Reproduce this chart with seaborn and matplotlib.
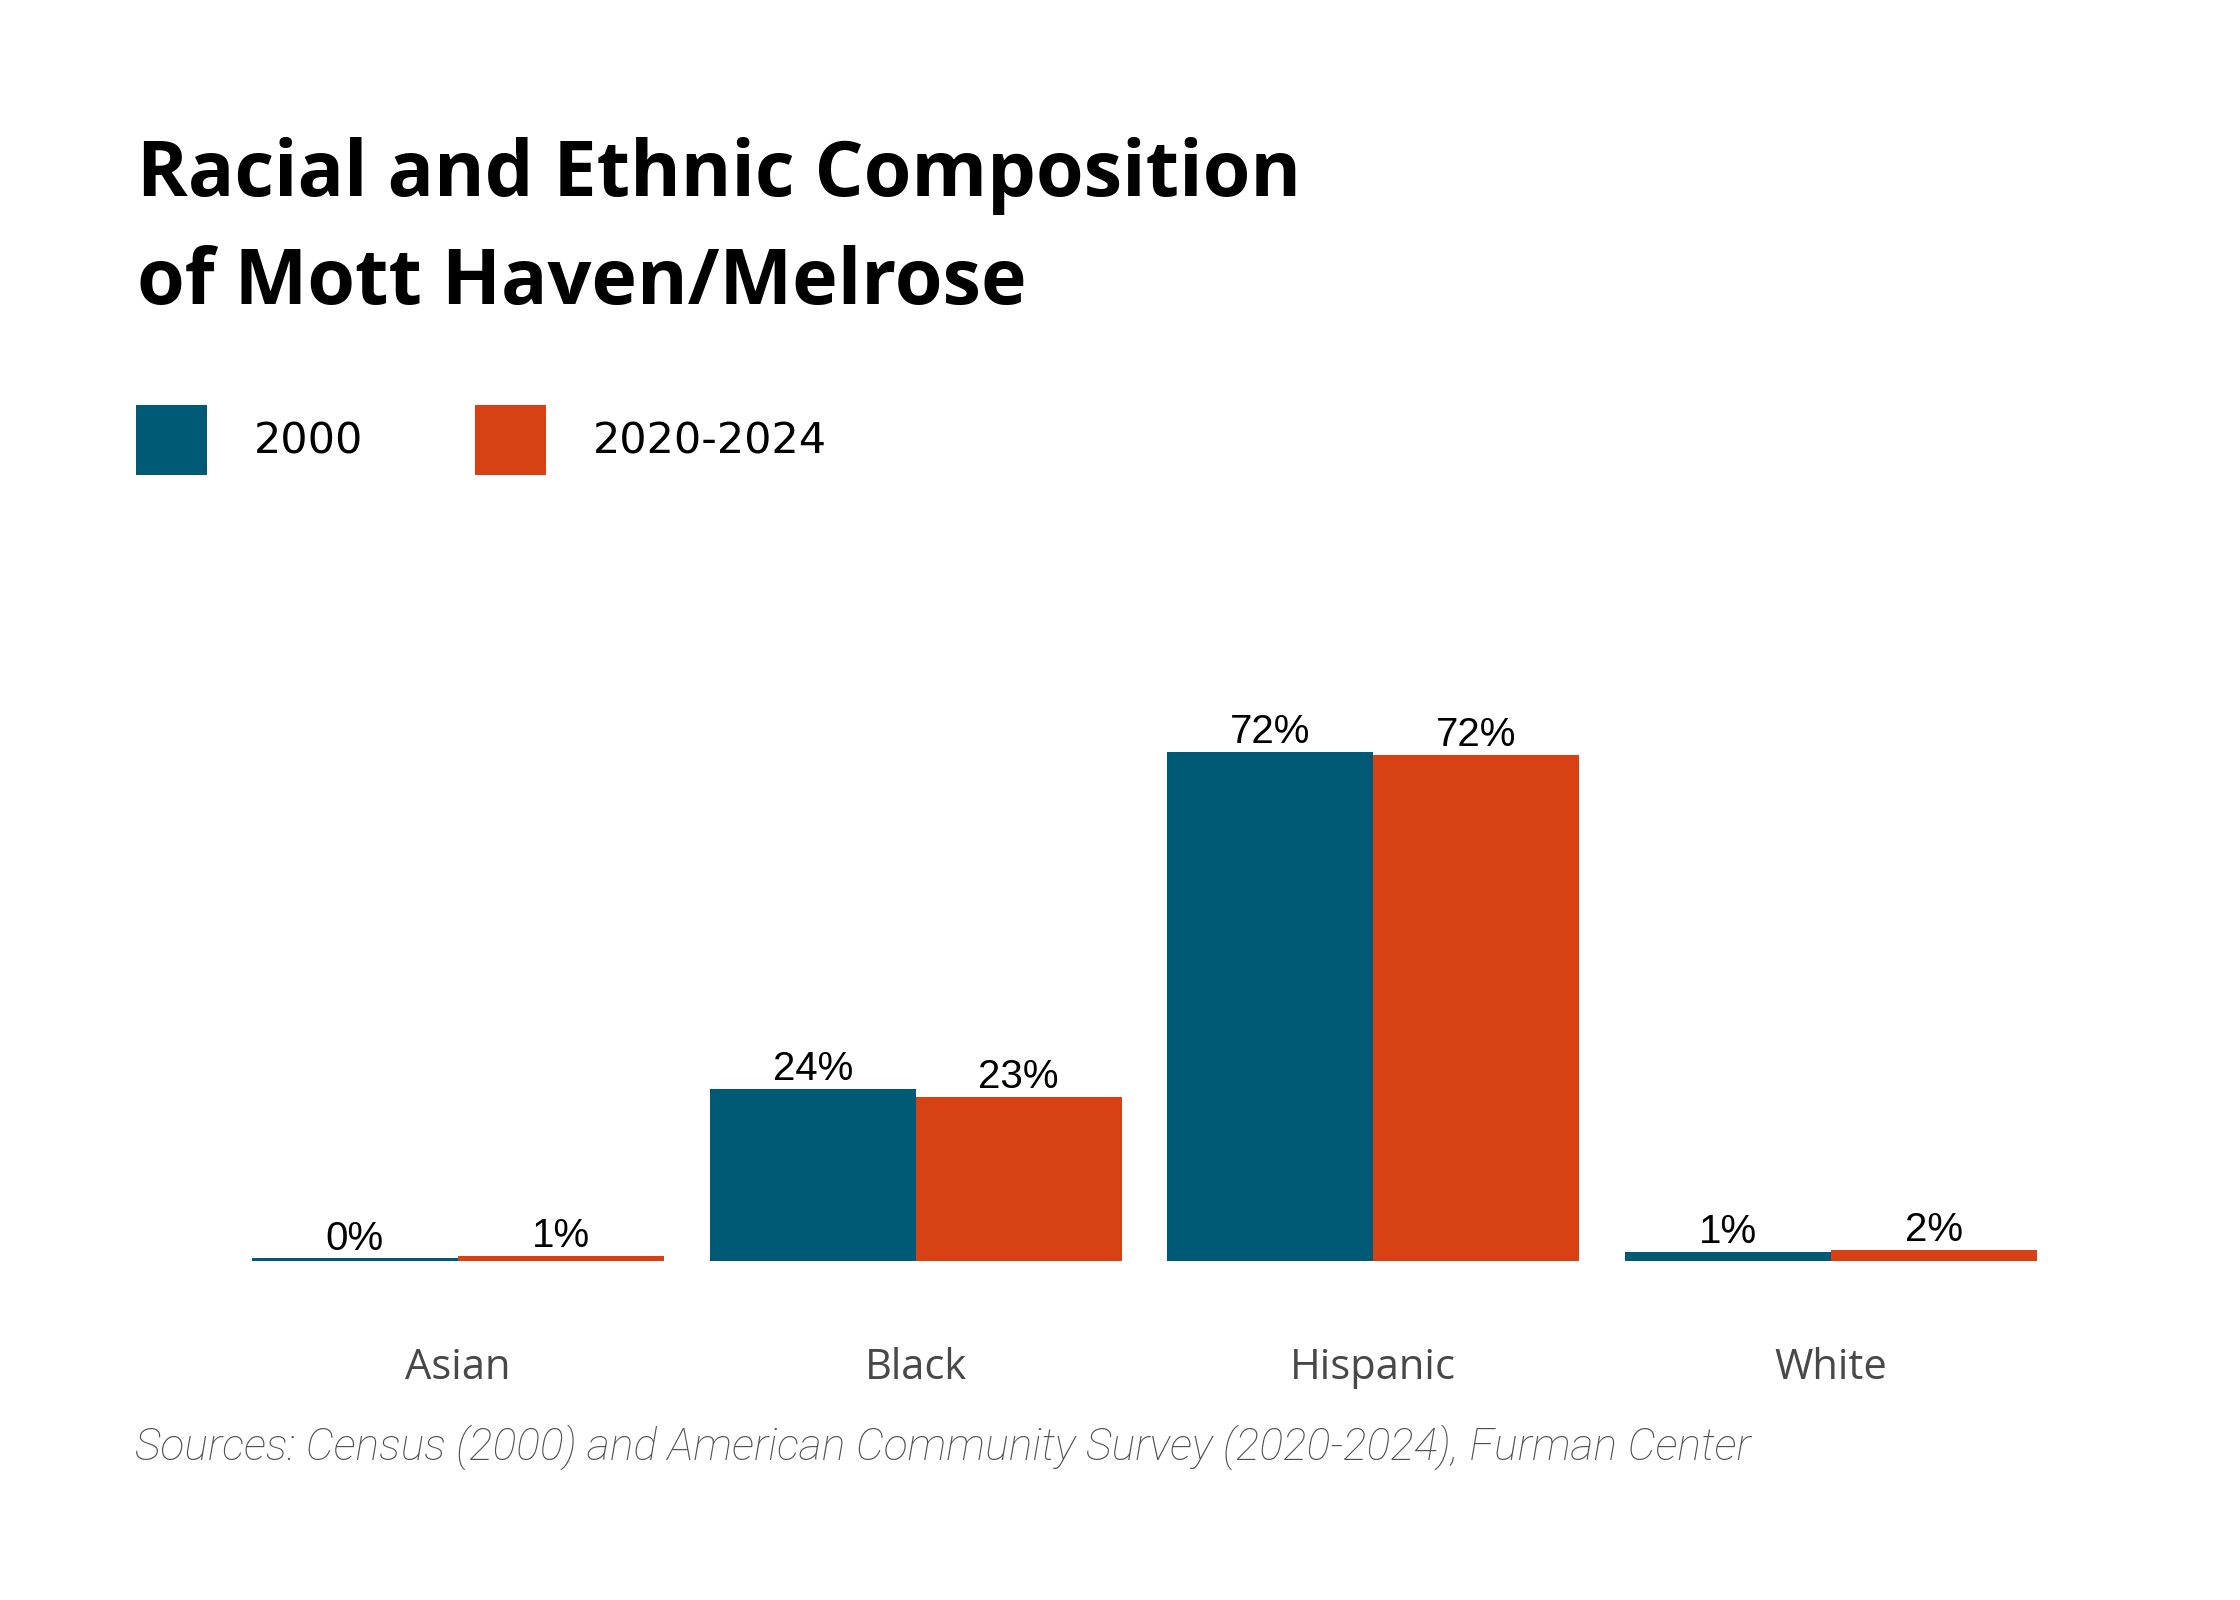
import pandas as pd
import seaborn as sns
import matplotlib.pyplot as plt
from matplotlib.patches import Patch

# data (percent of population)
groups = ["Asian", "Black", "Hispanic", "White"]
years = ["2000", "2020-2024"]
share_2000 = [0.38, 24.3, 72.0, 1.3]
share_2020 = [0.7, 23.2, 71.5, 1.55]

colors = ["#015a75", "#d74113"]

df = pd.DataFrame({
    "group": groups * 2,
    "year": [years[0]] * 4 + [years[1]] * 4,
    "share": share_2000 + share_2020,
})

sns.set_theme(style="white")
plt.rcParams["font.family"] = ["Open Sans", "DejaVu Sans"]

fig = plt.figure(figsize=(22.4, 16), dpi=100)
ax = fig.add_axes([229 / 2240, 339 / 1600, 1831 / 2240, 566 / 1600])

sns.barplot(data=df, x="group", y="share", hue="year", order=groups,
            hue_order=years, palette=colors, saturation=1, width=0.9,
            errorbar=None, linewidth=0, ax=ax)

ax.set_xlim(-0.5, 3.5)
ax.set_ylim(0, 80)
ax.set_xlabel("")
ax.set_ylabel("")
ax.set_yticks([])
for s in ax.spines.values():
    s.set_visible(False)
ax.tick_params(axis="x", length=0, pad=62, labelsize=30, labelcolor="#484848")

# value labels on top of the bars
for cont in ax.containers:
    labels = [f"{round(b.get_height())}%" for b in cont]
    ax.bar_label(cont, labels=labels, padding=0.5, fontsize=29,
                 family="Liberation Sans", color="black")

ax.get_legend().remove()
handles = [Patch(facecolor=c, edgecolor="none") for c in colors]
fig.legend(handles, years, loc="center left",
           bbox_to_anchor=(136 / 2240, 1 - 440 / 1600), ncol=2, frameon=False,
           prop={"family": "DejaVu Sans", "size": 31}, labelcolor="black",
           handlelength=1.65, handleheight=2.13, handletextpad=1.09,
           columnspacing=2.6, borderaxespad=0, borderpad=0)

fig.text(137 / 2240, 1 - 196 / 1600, "Racial and Ethnic Composition",
         fontsize=55.5, fontweight="bold", color="black", va="baseline")
fig.text(137 / 2240, 1 - 304 / 1600, "of Mott Haven/Melrose",
         fontsize=55.5, fontweight="bold", color="black", va="baseline")

fig.text(135 / 2240, 1 - 1460 / 1600,
         "Sources: Census (2000) and American Community Survey (2020-2024), Furman Center",
         fontsize=32, style="italic", fontweight="light", color="#505050",
         family="Roboto", va="baseline")

fig.savefig("out.png", dpi=100, facecolor="white")
